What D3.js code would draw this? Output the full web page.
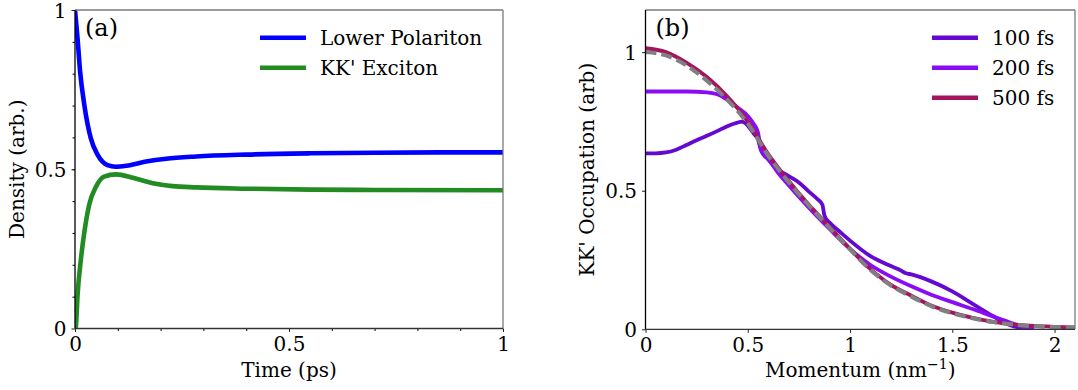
<!DOCTYPE html>
<html>
<head>
<meta charset="utf-8">
<script src="https://cdn.jsdelivr.net/npm/d3@7"></script>
<style>
  body { margin: 0; background: #fff; }
  svg { display: block; }
  svg text { font-family: "DejaVu Serif", "Liberation Serif", serif; }
</style>
</head>
<body>
<div id="fig"></div>
<script>
// ---- panel (a): densities vs time ----
let timePs = [0, 0.006, 0.012, 0.022, 0.037, 0.053, 0.076, 0.095, 0.12, 0.166, 0.213, 0.283, 0.4, 0.55, 0.7, 0.85, 1.0];
let lowerPolariton = [1.0, 0.91, 0.806, 0.70, 0.597, 0.545, 0.513, 0.508, 0.511, 0.524, 0.533, 0.540, 0.546, 0.550, 0.552, 0.553, 0.553];
let timePsX = [0, 0.002, 0.006, 0.014, 0.022, 0.033, 0.049, 0.068, 0.096, 0.135, 0.182, 0.228, 0.283, 0.4, 0.55, 0.7, 1.0];
let kkExciton = [0, 0.006, 0.105, 0.220, 0.304, 0.388, 0.445, 0.477, 0.484, 0.473, 0.456, 0.447, 0.443, 0.439, 0.436, 0.435, 0.434];

// ---- panel (b): occupation vs momentum ----
let k100 = [0, 0.05, 0.1, 0.15, 0.2, 0.25, 0.3, 0.35, 0.4, 0.45, 0.47, 0.5, 0.53, 0.55, 0.565, 0.6, 0.65, 0.7, 0.75, 0.8, 0.84, 0.865, 0.875, 0.9, 0.95, 1.0, 1.1, 1.2, 1.25, 1.27, 1.3, 1.4, 1.5, 1.6, 1.7, 1.78, 1.85, 1.9];
let occ100 = [0.635, 0.635, 0.638, 0.648, 0.665, 0.682, 0.698, 0.715, 0.733, 0.746, 0.749, 0.735, 0.705, 0.685, 0.645, 0.613, 0.575, 0.553, 0.530, 0.496, 0.470, 0.449, 0.41, 0.385, 0.352, 0.32, 0.264, 0.228, 0.212, 0.203, 0.198, 0.172, 0.137, 0.092, 0.047, 0.016, 0.003, 0];
let k200 = [0, 0.1, 0.2, 0.3, 0.35, 0.4, 0.45, 0.5, 0.53, 0.55, 0.565, 0.6, 0.65, 0.7, 0.8, 0.9, 1.0, 1.1, 1.2, 1.3, 1.4, 1.5, 1.6, 1.7, 1.8, 1.87, 1.9];
let occ200 = [0.858, 0.858, 0.858, 0.855, 0.848, 0.828, 0.80, 0.77, 0.74, 0.71, 0.65, 0.615, 0.563, 0.52, 0.438, 0.362, 0.29, 0.232, 0.19, 0.155, 0.124, 0.098, 0.073, 0.046, 0.02, 0.004, 0];
let kGrid = [0, 0.1, 0.2, 0.3, 0.4, 0.5, 0.6, 0.7, 0.8, 0.9, 1.0, 1.1, 1.2, 1.3, 1.4, 1.5, 1.6, 1.7, 1.8, 1.9, 2.0, 2.1];
let occ500 = [1.014, 1.0, 0.962, 0.91, 0.84, 0.75, 0.632, 0.535, 0.448, 0.37, 0.29, 0.217, 0.16, 0.121, 0.085, 0.06, 0.041, 0.027, 0.018, 0.012, 0.009, 0.007];
let occFit = [1.0, 0.988, 0.952, 0.897, 0.828, 0.742, 0.627, 0.531, 0.446, 0.366, 0.288, 0.214, 0.158, 0.118, 0.083, 0.058, 0.04, 0.026, 0.017, 0.011, 0.008, 0.006];

let seriesA = [
  { name: "Lower Polariton", x: timePs, y: lowerPolariton, color: "#0000ff" },
  { name: "KK' Exciton", x: timePsX, y: kkExciton, color: "#228b22" }
];
let seriesB = [
  { name: "100 fs", x: k100, y: occ100, color: "#6408d2" },
  { name: "200 fs", x: k200, y: occ200, color: "#8a0cf4" },
  { name: "500 fs", x: kGrid, y: occ500, color: "#a5155f" }
];

let width = 1078, height = 390;
let fs = "20px";
let svg = d3.select("#fig").append("svg")
  .attr("width", width)
  .attr("height", height);

function makePanel(cfg){
  let g = svg.append("g");
  let xScale = d3.scaleLinear().domain(cfg.xDomain).range([cfg.left, cfg.right]);
  let yScale = d3.scaleLinear().domain(cfg.yDomain).range([cfg.bottom, cfg.top]);

  // minor ticks
  if (cfg.minor) {
    g.append("g")
      .attr("transform", "translate(0," + cfg.bottom + ")")
      .call(d3.axisBottom(xScale).tickValues(d3.range(0.1, 1, 0.1)).tickSize(2.5).tickFormat(""))
      .call(a => a.select(".domain").remove());
    g.append("g")
      .attr("transform", "translate(" + cfg.left + ",0)")
      .call(d3.axisLeft(yScale).tickValues(d3.range(0.1, 1, 0.1)).tickSize(2.5).tickFormat(""))
      .call(a => a.select(".domain").remove());
  }
  let xAxis = g.append("g")
    .attr("transform", "translate(0," + cfg.bottom + ")")
    .call(d3.axisBottom(xScale).tickValues(cfg.xTicks).tickSize(3.5).tickPadding(5).tickFormat(d3.format("~g")));
  let yAxis = g.append("g")
    .attr("transform", "translate(" + cfg.left + ",0)")
    .call(d3.axisLeft(yScale).tickValues(cfg.yTicks).tickSize(3.5).tickPadding(5).tickFormat(d3.format("~g")));
  [xAxis, yAxis].forEach(a => {
    a.select(".domain").remove();
    a.selectAll("text").style("font-size", fs).attr("fill", "#000");
    a.selectAll("line").attr("stroke", "#222");
  });
  yAxis.selectAll("text").attr("dy", "0.36em");

  // clip for data
  let clipId = "clip" + cfg.tag.replace(/\W/g, "");
  svg.append("clipPath").attr("id", clipId).append("rect")
    .attr("x", cfg.left).attr("y", cfg.top)
    .attr("width", cfg.right - cfg.left).attr("height", cfg.bottom - cfg.top);
  let plot = g.append("g").attr("clip-path", "url(#" + clipId + ")");

  // frame: top/right grey, left/bottom dark
  g.append("line").attr("x1", cfg.left).attr("x2", cfg.right).attr("y1", cfg.top).attr("y2", cfg.top).attr("stroke", "#7a7a7a").attr("stroke-width", 1.3);
  g.append("line").attr("x1", cfg.right).attr("x2", cfg.right).attr("y1", cfg.top).attr("y2", cfg.bottom).attr("stroke", "#7a7a7a").attr("stroke-width", 1.3);
  g.append("line").attr("x1", cfg.left).attr("x2", cfg.right).attr("y1", cfg.bottom).attr("y2", cfg.bottom).attr("stroke", "#333").attr("stroke-width", 1.3);
  g.append("line").attr("x1", cfg.left).attr("x2", cfg.left).attr("y1", cfg.top).attr("y2", cfg.bottom).attr("stroke", "#000").attr("stroke-width", 1.3);

  // axis labels
  g.append("text")
    .attr("x", (cfg.left + cfg.right) / 2).attr("y", 377)
    .attr("text-anchor", "middle").style("font-size", fs)
    .text(cfg.xLabel);
  g.append("text")
    .attr("transform", "translate(" + cfg.yLabelX + "," + ((cfg.top + cfg.bottom) / 2) + ") rotate(-90)")
    .attr("text-anchor", "middle").style("font-size", fs)
    .text(cfg.yLabel);
  g.append("text")
    .attr("x", cfg.left + 10).attr("y", 36)
    .style("font-size", "24px")
    .text(cfg.tag);

  return { g, plot, xScale, yScale };
}

function drawLines(panel, series, lw){
  let line = d3.line().curve(d3.curveMonotoneX)
    .x(d => panel.xScale(d[0]))
    .y(d => panel.yScale(d[1]));
  panel.plot.selectAll(null)
    .data(series)
    .enter()
    .append("path")
      .attr("d", s => line(s.x.map((v, i) => [v, s.y[i]])))
      .attr("fill", "none")
      .attr("stroke", s => s.color)
      .attr("stroke-width", lw)
      .attr("stroke-linejoin", "round");
}

function legend(panel, series, x0, lw){
  let lg = panel.g.append("g");
  lg.selectAll(null).data(series).enter().append("line")
    .attr("x1", x0).attr("x2", x0 + 46)
    .attr("y1", (d, i) => 37.7 + i * 30).attr("y2", (d, i) => 37.7 + i * 30)
    .attr("stroke", d => d.color).attr("stroke-width", lw);
  lg.selectAll(null).data(series).enter().append("text")
    .attr("x", x0 + 60)
    .attr("y", (d, i) => 44.8 + i * 30)
    .style("font-size", fs)
    .text(d => d.name);
}

// panel (a)
let pa = makePanel({
  tag: "(a)", left: 75, right: 503, top: 10, bottom: 328.5,
  xDomain: [0, 1], yDomain: [0, 1], xTicks: [0, 0.5, 1], yTicks: [0, 0.5, 1], minor: true,
  xLabel: "Time (ps)", yLabel: "Density (arb.)", yLabelX: 24
});
drawLines(pa, seriesA, 4.6);
legend(pa, seriesA, 260, 4.6);

// panel (b)
let pb = makePanel({
  tag: "(b)", left: 645.5, right: 1075, top: 10, bottom: 329.3,
  xDomain: [0, 2.1], yDomain: [0, 1.152], xTicks: [0, 0.5, 1, 1.5, 2], yTicks: [0, 0.5, 1], minor: false,
  xLabel: "", yLabel: "KK' Occupation (arb)", yLabelX: 594
});
drawLines(pb, seriesB, 3.8);
// grey dashed reference curve
let fitLine = d3.line().curve(d3.curveMonotoneX)
  .x(d => pb.xScale(d[0])).y(d => pb.yScale(d[1]));
pb.plot.append("path")
  .attr("d", fitLine(kGrid.map((v, i) => [v, occFit[i]])))
  .attr("fill", "none")
  .attr("stroke", "#808080")
  .attr("stroke-width", 4)
  .attr("stroke-dasharray", "11,5");
legend(pb, seriesB, 932, 4.6);

// momentum label with superscript
let ml = pb.g.append("text")
  .attr("x", (645.5 + 1075) / 2).attr("y", 377)
  .attr("text-anchor", "middle").style("font-size", fs);
ml.append("tspan").text("Momentum (nm");
ml.append("tspan").attr("dy", -8).style("font-size", "14px").text("\u22121");
ml.append("tspan").attr("dy", 8).text(")");
</script>
</body>
</html>
